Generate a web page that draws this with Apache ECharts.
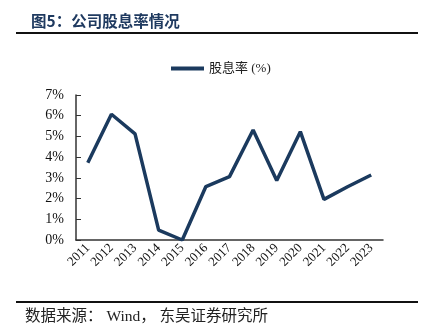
<!DOCTYPE html>
<html>
<head>
<meta charset="utf-8">
<script src="https://cdn.jsdelivr.net/npm/echarts@6/dist/echarts.min.js"></script>
<style>html,body{margin:0;padding:0;background:#fff;}#c{width:425px;height:333px;}</style>
</head>
<body>
<div id="c"></div>
<script>
const categories = ['2011','2012','2013','2014','2015','2016','2017','2018','2019','2020','2021','2022','2023'];
const dividendYield = [3.73, 6.07, 5.12, 0.48, 0.0, 2.58, 3.06, 5.31, 2.87, 5.23, 1.96, 2.57, 3.14];
const yTicks = [0, 1, 2, 3, 4, 5, 6, 7];
const seriesName = '股息率 (%)';

const serif = '"Liberation Serif", "DejaVu Serif", "Noto Sans CJK SC", serif';
const chart = echarts.init(document.getElementById('c'), null, {renderer: 'canvas'});
chart.setOption({
  animation: false,
  title: {
    text: '图5：公司股息率情况',
    left: 26, top: 8,
    textStyle: {fontSize: 15.5, fontWeight: 'bold', color: '#1f3a60', fontFamily: '"Noto Sans CJK SC", sans-serif'}
  },
  graphic: [
    {type: 'line', shape: {x1: 16, y1: 33, x2: 418, y2: 33}, style: {stroke: '#111', lineWidth: 2}},
    {type: 'line', shape: {x1: 16, y1: 302, x2: 418, y2: 302}, style: {stroke: '#111', lineWidth: 2}},
    {type: 'text', left: 25, top: 309, style: {text: '数据来源： Wind， 东吴证券研究所', fontSize: 15.5, fill: '#222', fontFamily: serif}}
  ],
  legend: {
    data: [seriesName],
    top: 57, left: 166,
    itemWidth: 33, itemHeight: 4, itemGap: 4,
    icon: 'rect',
    textStyle: {fontSize: 13, color: '#222', fontFamily: serif}
  },
  grid: {left: 76, right: 42, top: 95, bottom: 93},
  xAxis: {
    type: 'category',
    data: categories,
    boundaryGap: true,
    axisLine: {lineStyle: {color: '#333', width: 1.5}},
    axisTick: {inside: true, length: 5, lineStyle: {color: '#333'}},
    axisLabel: {rotate: 45, fontSize: 13, color: '#111', fontFamily: serif, margin: 6, interval: 0}
  },
  yAxis: {
    type: 'value',
    min: 0, max: 7, interval: 1,
    axisLine: {show: true, lineStyle: {color: '#333', width: 1.5}},
    axisTick: {show: true, inside: true, length: 5, lineStyle: {color: '#333'}},
    splitLine: {show: false},
    axisLabel: {fontSize: 14, color: '#111', fontFamily: serif, margin: 12, formatter: v => v + '%'}
  },
  series: [{
    name: seriesName,
    type: 'line',
    data: dividendYield,
    symbol: 'none',
    lineStyle: {color: '#1b3a5e', width: 3.5},
    itemStyle: {color: '#1b3a5e'}
  }]
});
</script>
</body>
</html>
